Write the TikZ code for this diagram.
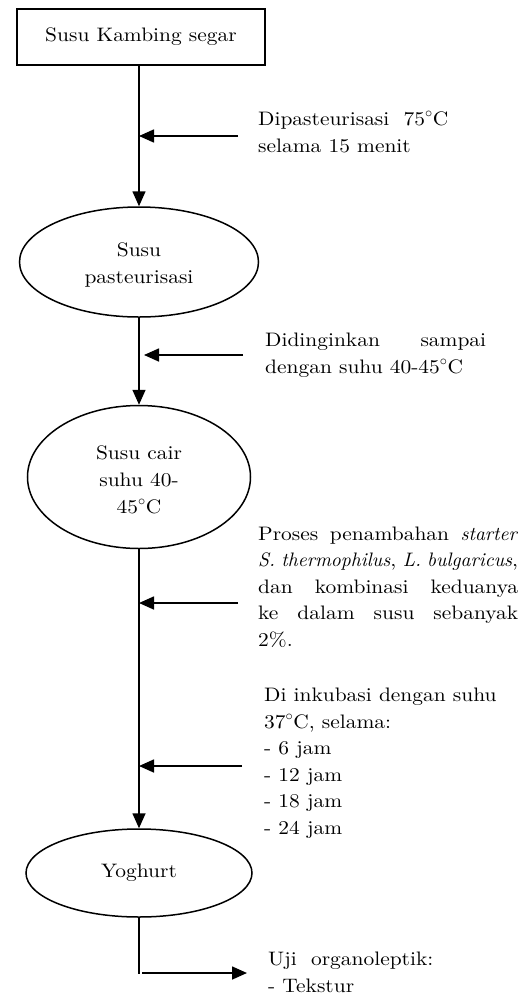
\documentclass[tikz,border=0pt]{standalone}
\usepackage{fontspec}
\setmainfont{lmroman10-regular.otf}[ItalicFont=lmroman10-italic.otf, UprightFeatures={FakeStretch=1.1}]
\usetikzlibrary{shapes.geometric,arrows.meta}
\tikzset{
  flow/.style={line width=1.6pt},
  arr/.style={flow,-{Triangle[length=15pt,width=13pt]}},
  oval/.style={ellipse,draw,line width=1.5pt,inner sep=0pt,align=center,font=\fontsize{19.5}{27}\selectfont},
  lbl/.style={inner sep=0pt,anchor=base west,align=left,font=\fontsize{19.5}{26.5}\selectfont}
}
\begin{document}
\begin{tikzpicture}[x=1pt,y=-1pt]
\useasboundingbox[fill=white] (0,0) rectangle (526,994);
% nodes
\node[draw,line width=1.6pt,minimum width=248pt,minimum height=56pt,inner sep=0pt,
  font=\fontsize{19.5}{26.5}\selectfont] (box) at (141,37) {Susu Kambing segar};
\node[oval,minimum width=239pt,minimum height=110pt] (e1) at (139,262) {\strut Susu\\pasteurisasi};
\node[oval,minimum width=223pt,minimum height=143pt] (e2) at (139,477) {\strut Susu cair\\suhu 40-\\45$^{\circ}$C};
\node[oval,minimum width=226pt,minimum height=88pt] (e3) at (139,873) {Yoghurt};
% labels (anchored at the baseline of the last line)
\node[lbl] (t1) at (258,152) {Dipasteurisasi~ 75$^{\circ}$C\\selama 15 menit};
\node[lbl] (t2) at (265,373) {\makebox[221pt][s]{Didinginkan sampai}\\dengan suhu 40-45$^{\circ}$C};
\node[lbl] (t3) at (258,646) {\makebox[260pt][s]{Proses penambahan \textit{starter}}\\
  \makebox[260pt][s]{\textit{S. thermophilus}, \textit{L. bulgaricus},}\\
  \makebox[260pt][s]{dan kombinasi keduanya}\\
  \makebox[260pt][s]{ke dalam susu sebanyak}\\
  2\%.};
\node[lbl] (t4) at (264,834) {Di inkubasi dengan suhu\\37$^{\circ}$C, selama:\\- 6 jam\\- 12 jam\\- 18 jam\\- 24 jam};
\node[lbl] (t5) at (268,992) {Uji~ organoleptik:\\- Tekstur};
% main flow
\draw[arr] (box.south -| e1.north) -- (e1.north);
\draw[arr] (e1.south) -- (e2.north);
\draw[arr] (e2.south) -- (e3.north);
\coordinate (k) at (139,974);
\draw[flow] (e3.south) -- (k);
% side arrows
\coordinate (a1) at (238,136);
\coordinate (a2) at (243,355);
\coordinate (a3) at (238,603);
\coordinate (a4) at (242,766);
\coordinate (a5) at (247,973);
\draw[arr] (a1) -- (a1 -| e1.north);
\draw[arr] (a2) -- ([xshift=5pt]a2 -| e1.south);
\draw[arr] (a3) -- (a3 -| e2.south);
\draw[arr] (a4) -- (a4 -| e2.south);
\draw[arr] ([xshift=3pt]k |- a5) -- (a5);
\end{tikzpicture}
\end{document}
